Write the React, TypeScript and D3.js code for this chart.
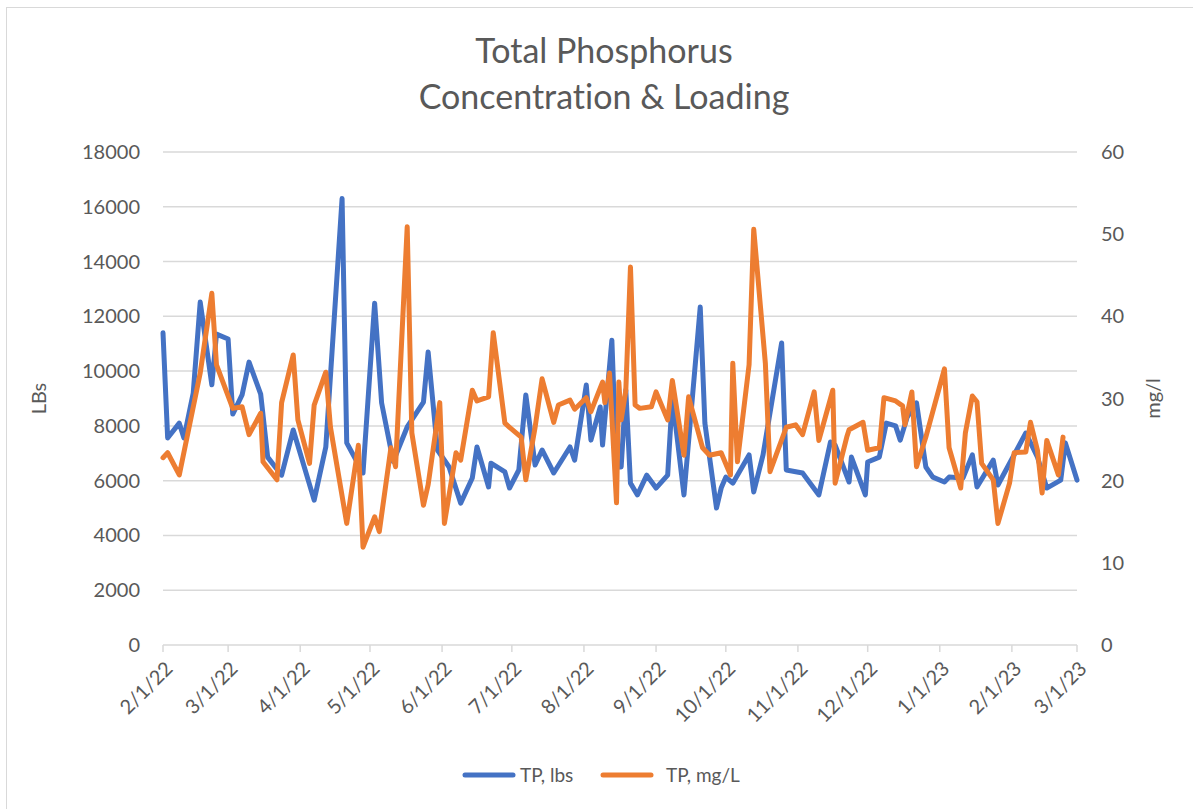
import * as React from 'react';
import * as d3 from 'd3';

const dimensions = { width: 1193, height: 809 };
const margin = { top: 152, left: 163, right: 116, bottom: 164 };

const lbsDates = [
  '2022-02-01', '2022-02-03', '2022-02-08', '2022-02-10', '2022-02-14', '2022-02-17', '2022-02-22', '2022-02-24',
  '2022-03-01', '2022-03-03', '2022-03-07', '2022-03-10', '2022-03-15', '2022-03-18', '2022-03-24', '2022-03-29',
  '2022-04-07', '2022-04-12', '2022-04-19', '2022-04-21', '2022-04-28', '2022-05-03', '2022-05-06', '2022-05-11',
  '2022-05-17', '2022-05-24', '2022-05-26', '2022-05-30', '2022-06-04', '2022-06-09', '2022-06-14', '2022-06-16',
  '2022-06-21', '2022-06-22', '2022-06-28', '2022-06-30', '2022-07-04', '2022-07-07', '2022-07-11', '2022-07-14',
  '2022-07-19', '2022-07-26', '2022-07-28', '2022-08-02', '2022-08-04', '2022-08-08', '2022-08-09', '2022-08-13',
  '2022-08-15', '2022-08-17', '2022-08-19', '2022-08-21', '2022-08-24', '2022-08-28', '2022-09-01', '2022-09-06',
  '2022-09-08', '2022-09-13', '2022-09-20', '2022-09-22', '2022-09-27', '2022-09-29', '2022-10-01', '2022-10-04',
  '2022-10-11', '2022-10-13', '2022-10-17', '2022-10-25', '2022-10-27', '2022-11-03', '2022-11-10', '2022-11-15',
  '2022-11-17', '2022-11-23', '2022-11-24', '2022-11-30', '2022-12-01', '2022-12-06', '2022-12-09', '2022-12-13',
  '2022-12-15', '2022-12-18', '2022-12-22', '2022-12-26', '2022-12-29', '2023-01-03', '2023-01-05', '2023-01-11',
  '2023-01-15', '2023-01-17', '2023-01-24', '2023-01-26', '2023-02-07', '2023-02-12', '2023-02-16', '2023-02-22',
  '2023-02-24', '2023-03-01',
];

const lbsValues = [
  11400, 7560, 8100, 7560, 9200, 12520, 9500, 11350,
  11170, 8430, 9130, 10330, 9160, 6860, 6200, 7850,
  5290, 7230, 16300, 7380, 6280, 12480, 8840, 6700,
  7960, 8870, 10700, 7120, 6500, 5180, 6100, 7230,
  5770, 6640, 6320, 5730, 6390, 9130, 6570, 7120,
  6280, 7230, 6750, 9490, 7480, 8690, 7300, 11130,
  6500, 6500, 9310, 5910, 5480, 6200, 5730, 6200,
  9050, 5480, 12340, 8100, 5000, 5730, 6130, 5910,
  6940, 5590, 6940, 11030, 6390, 6280, 5480, 7410,
  7300, 5950, 6860, 5480, 6680, 6860, 8100, 8000,
  7480, 8320, 8840, 6500, 6130, 5950, 6130, 6100,
  6940, 5770, 6750, 5840, 7740, 6860, 5730, 6020,
  7380, 6020,
];

const mglDates = [
  '2022-02-01', '2022-02-03', '2022-02-08', '2022-02-17', '2022-02-22', '2022-02-24', '2022-03-03', '2022-03-07',
  '2022-03-10', '2022-03-15', '2022-03-16', '2022-03-22', '2022-03-24', '2022-03-29', '2022-03-31', '2022-04-05',
  '2022-04-07', '2022-04-12', '2022-04-14', '2022-04-21', '2022-04-26', '2022-04-28', '2022-05-03', '2022-05-05',
  '2022-05-10', '2022-05-12', '2022-05-17', '2022-05-19', '2022-05-24', '2022-05-26', '2022-05-31', '2022-06-02',
  '2022-06-07', '2022-06-09', '2022-06-14', '2022-06-16', '2022-06-21', '2022-06-23', '2022-06-28', '2022-06-30',
  '2022-07-05', '2022-07-07', '2022-07-11', '2022-07-14', '2022-07-19', '2022-07-21', '2022-07-26', '2022-07-28',
  '2022-08-02', '2022-08-04', '2022-08-09', '2022-08-10', '2022-08-12', '2022-08-15', '2022-08-16', '2022-08-17',
  '2022-08-19', '2022-08-21', '2022-08-23', '2022-08-25', '2022-08-30', '2022-09-01', '2022-09-06', '2022-09-08',
  '2022-09-13', '2022-09-15', '2022-09-21', '2022-09-24', '2022-09-29', '2022-10-03', '2022-10-04', '2022-10-06',
  '2022-10-11', '2022-10-13', '2022-10-18', '2022-10-20', '2022-10-27', '2022-10-31', '2022-11-03', '2022-11-08',
  '2022-11-10', '2022-11-16', '2022-11-17', '2022-11-22', '2022-11-23', '2022-11-29', '2022-12-01', '2022-12-06',
  '2022-12-08', '2022-12-13', '2022-12-16', '2022-12-17', '2022-12-20', '2022-12-22', '2022-12-26', '2023-01-03',
  '2023-01-05', '2023-01-10', '2023-01-12', '2023-01-15', '2023-01-17', '2023-01-19', '2023-01-24', '2023-01-26',
  '2023-01-31', '2023-02-02', '2023-02-07', '2023-02-09', '2023-02-12', '2023-02-14', '2023-02-16', '2023-02-21',
  '2023-02-23',
];

const mglValues = [
  22.8, 23.4, 20.7, 33.1, 42.8, 34.1, 28.8, 29.0,
  25.6, 28.2, 22.3, 20.1, 29.5, 35.3, 27.4, 22.1,
  29.2, 33.2, 26.5, 14.8, 24.3, 11.9, 15.6, 13.8,
  24.0, 21.7, 50.9, 25.8, 17.0, 19.5, 29.5, 14.8,
  23.4, 22.5, 31.0, 29.7, 30.2, 38.0, 27.0, 26.5,
  25.3, 20.1, 26.5, 32.4, 27.1, 29.2, 29.8, 28.7,
  30.1, 28.4, 32.0, 29.5, 33.1, 17.3, 32.0, 27.4,
  31.0, 46.0, 29.2, 28.8, 29.0, 30.8, 27.4, 32.2,
  23.1, 30.2, 24.0, 23.1, 23.4, 20.7, 34.3, 22.3,
  34.1, 50.6, 34.3, 21.1, 26.5, 26.8, 25.6, 30.8,
  24.9, 31.0, 19.7, 25.3, 26.2, 27.1, 23.7, 24.0,
  30.1, 29.7, 29.1, 26.8, 30.8, 21.7, 25.3, 33.6,
  24.0, 19.1, 25.8, 30.3, 29.6, 22.1, 20.1, 14.8,
  19.7, 23.4, 23.5, 27.1, 23.7, 18.5, 24.9, 20.7,
  25.3,
];

const leftTicks = [0, 2000, 4000, 6000, 8000, 10000, 12000, 14000, 16000, 18000];
const rightTicks = [0, 10, 20, 30, 40, 50, 60];

const BLUE = '#4472C4';
const ORANGE = '#ED7D31';
const GRID = '#d9d9d9';
const TEXT = '#595959';
const FONT = 'Lato, "Open Sans", sans-serif';

const parse = d3.utcParse('%Y-%m-%d');
const fmt = d3.utcFormat('%-m/%-d/%y');

const App: React.FC = () => {
  const x = d3
    .scaleUtc()
    .domain([parse('2022-02-01')!, parse('2023-03-01')!])
    .range([margin.left, dimensions.width - margin.right]);
  const yL = d3
    .scaleLinear()
    .domain([0, 18000])
    .range([dimensions.height - margin.bottom, margin.top]);
  const yR = d3
    .scaleLinear()
    .domain([0, 60])
    .range([dimensions.height - margin.bottom, margin.top]);

  const lbs = lbsDates.map((d, i) => ({ date: parse(d)!, value: lbsValues[i] }));
  const mgl = mglDates.map((d, i) => ({ date: parse(d)!, value: mglValues[i] }));

  const lineL = d3
    .line<{ date: Date; value: number }>()
    .x((d) => x(d.date))
    .y((d) => yL(d.value));
  const lineR = d3
    .line<{ date: Date; value: number }>()
    .x((d) => x(d.date))
    .y((d) => yR(d.value));

  const monthTicks = d3.utcMonth.range(parse('2022-02-01')!, parse('2023-03-02')!);
  const y0 = yL(0);

  return (
    <svg
      width={dimensions.width}
      height={dimensions.height}
      viewBox={`0 0 ${dimensions.width} ${dimensions.height}`}
      style={{ position: 'absolute', left: 0, top: 0, background: '#fff', fontVariantLigatures: 'none' }}
      fontFamily={FONT}
    >
      <rect x={6.5} y={7.5} width={1200} height={900} fill="#fff" stroke={GRID} />
      <text x={604} y={63} textAnchor="middle" fontSize={34} fill={TEXT}>
        Total Phosphorus
      </text>
      <text x={604} y={109} textAnchor="middle" fontSize={34} fill={TEXT}>
        Concentration &amp; Loading
      </text>

      <g>
        {leftTicks.map((t) => (
          <line
            key={t}
            x1={margin.left}
            x2={dimensions.width - margin.right}
            y1={yL(t)}
            y2={yL(t)}
            stroke={GRID}
            strokeWidth={1.5}
          />
        ))}
        {monthTicks.map((d) => (
          <line key={+d} x1={x(d)} x2={x(d)} y1={y0} y2={y0 + 7} stroke={GRID} strokeWidth={1.5} />
        ))}
      </g>

      <g fontSize={20} fill={TEXT}>
        {leftTicks.map((t) => (
          <text key={t} x={140} y={yL(t)} dy="0.35em" textAnchor="end">
            {t}
          </text>
        ))}
        {rightTicks.map((t) => (
          <text key={t} x={1101} y={yR(t)} dy="0.35em" textAnchor="start">
            {t}
          </text>
        ))}
        {monthTicks.map((d) => (
          <text
            key={+d}
            transform={`translate(${x(d) + 6},${y0 + 20}) rotate(-45)`}
            textAnchor="end"
            dy="0.35em"
          >
            {fmt(d)}
          </text>
        ))}
      </g>

      <text transform={`translate(46,${yL(9000)}) rotate(-90)`} textAnchor="middle" fontSize={20} fill={TEXT}>
        LBs
      </text>
      <text transform={`translate(1160,${yR(30)}) rotate(-90)`} textAnchor="middle" fontSize={20} fill={TEXT}>
        mg/l
      </text>

      <path d={lineL(lbs) ?? ''} fill="none" stroke={BLUE} strokeWidth={5} strokeLinejoin="round" strokeLinecap="round" />
      <path d={lineR(mgl) ?? ''} fill="none" stroke={ORANGE} strokeWidth={5} strokeLinejoin="round" strokeLinecap="round" />

      <g fontSize={19} fill={TEXT}>
        <line x1={465} x2={513} y1={775} y2={775} stroke={BLUE} strokeWidth={5} strokeLinecap="round" />
        <text x={520} y={775} dy="0.35em">TP, lbs</text>
        <line x1={603} x2={651} y1={775} y2={775} stroke={ORANGE} strokeWidth={5} strokeLinecap="round" />
        <text x={666} y={775} dy="0.35em">TP, mg/L</text>
      </g>
    </svg>
  );
};

export default App;
